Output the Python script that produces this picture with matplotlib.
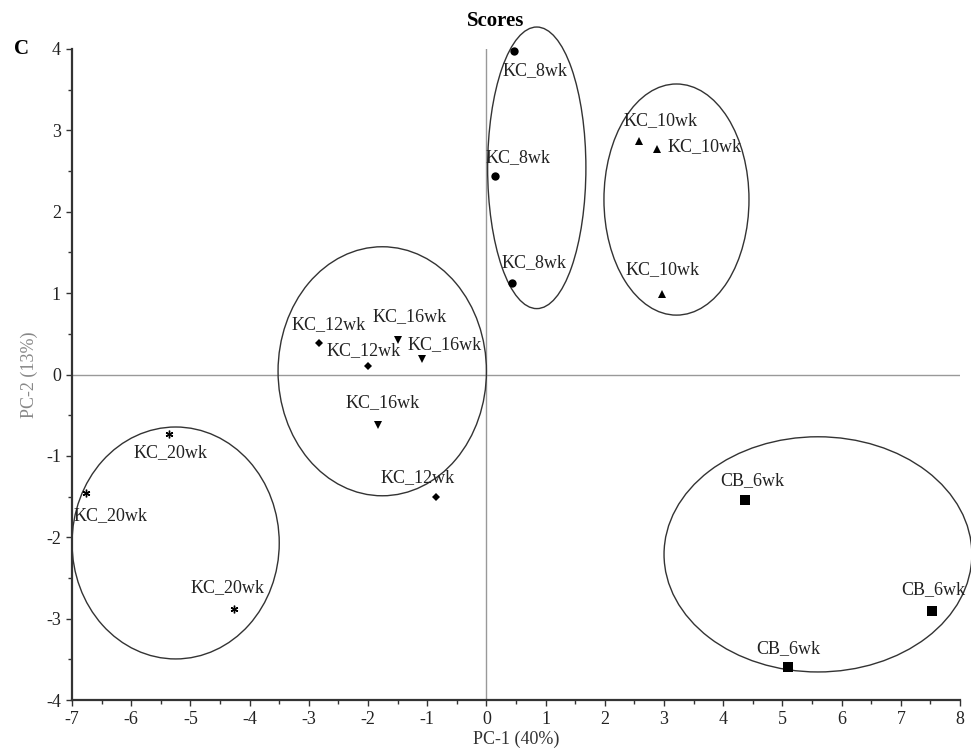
import matplotlib.pyplot as plt
import numpy as np
from matplotlib.patches import Ellipse
from matplotlib.ticker import MultipleLocator

plt.rcParams['font.family'] = ['Liberation Serif', 'DejaVu Serif']
plt.rcParams['axes.unicode_minus'] = False

# Score data (PC-1, PC-2)
groups = ['KC_8wk', 'KC_10wk', 'KC_12wk', 'KC_16wk', 'KC_20wk', 'CB_6wk']
pc1 = {
    'KC_8wk': [0.47, 0.14, 0.44],
    'KC_10wk': [2.57, 2.88, 2.96],
    'KC_12wk': [-2.82, -2.00, -0.86],
    'KC_16wk': [-1.49, -1.09, -1.83],
    'KC_20wk': [-5.37, -6.76, -4.26],
    'CB_6wk': [4.37, 7.53, 5.09],
}
pc2 = {
    'KC_8wk': [3.97, 2.44, 1.12],
    'KC_10wk': [2.87, 2.77, 0.99],
    'KC_12wk': [0.39, 0.11, -1.50],
    'KC_16wk': [0.43, 0.19, -0.62],
    'KC_20wk': [-0.73, -1.45, -2.88],
    'CB_6wk': [-1.54, -2.91, -3.59],
}

# group ellipses: centre x, centre y, width, height
ell_cx = [0.85, 3.21, -1.76, -5.25, 5.60]
ell_cy = [2.54, 2.15, 0.04, -2.07, -2.21]
ell_w = [1.66, 2.45, 3.52, 3.50, 5.20]
ell_h = [3.46, 2.84, 3.06, 2.85, 2.89]

markers = {'KC_8wk': 'o', 'KC_10wk': '^', 'KC_12wk': 'D', 'KC_16wk': 'v',
           'KC_20wk': (6, 2, 0), 'CB_6wk': 's'}
msize = {'KC_8wk': 6, 'KC_10wk': 5.5, 'KC_12wk': 4, 'KC_16wk': 5.5,
         'KC_20wk': 5.5, 'CB_6wk': 6.5}
# label offsets in pixels relative to each point
offs = {
    'KC_8wk': [(21, -19), (23, 18), (22, 21)],
    'KC_10wk': [(22, 20), (48, 2), (1, 24)],
    'KC_12wk': [(9, 18), (-4, 15), (-18, 19)],
    'KC_16wk': [(11, 23), (23, 14), (5, 22)],
    'KC_20wk': [(2, -19), (24, -23), (-7, 21)],
    'CB_6wk': [(7, 19), (1, 22), (1, 18)],
}

fig = plt.figure(figsize=(9.71, 7.55), dpi=100)
ax = fig.add_axes([0.0742, 0.0728, 0.9145, 0.8623])
ax.set_xlim(-7, 8)
ax.set_ylim(-4, 4)

ax.axhline(0, color='#999999', lw=1, zorder=1)
ax.axvline(0, color='#999999', lw=1, zorder=1)

for cx, cy, w, h in zip(ell_cx, ell_cy, ell_w, ell_h):
    ax.add_patch(Ellipse((cx, cy), w, h, fill=False, ec='#333333', lw=1, clip_on=False))

for g in groups:
    lw = 1.0 if g == 'KC_20wk' else 0
    ax.plot(pc1[g], pc2[g], ls='none', marker=markers[g], ms=msize[g],
            color='black', mew=lw, clip_on=False, zorder=3)
    for x, y, (dx, dy) in zip(pc1[g], pc2[g], offs[g]):
        ax.annotate(g, (x, y), xytext=(dx, dy), textcoords='offset pixels',
                    ha='center', va='center', fontsize=13, color='#222222')

for s in ['top', 'right']:
    ax.spines[s].set_visible(False)
for s in ['left', 'bottom']:
    ax.spines[s].set_linewidth(1.6)
    ax.spines[s].set_color('#333333')

ax.xaxis.set_major_locator(MultipleLocator(1))
ax.xaxis.set_minor_locator(MultipleLocator(0.5))
ax.yaxis.set_major_locator(MultipleLocator(1))
ax.yaxis.set_minor_locator(MultipleLocator(0.5))
ax.tick_params(which='major', direction='out', length=4, width=1, color='#333333',
               labelsize=13, labelcolor='#222222', pad=4)
ax.tick_params(which='minor', direction='out', length=3, width=1, color='#333333')

ax.set_xlabel('PC-1 (40%)', fontsize=13, color='#333333', labelpad=2)
ax.set_ylabel('PC-2 (13%)', fontsize=13, color='#888888', labelpad=6)

fig.text(0.51, 0.972, 'Scores', fontsize=15, fontweight='bold', ha='center', va='center')
fig.text(0.022, 0.935, 'C', fontsize=15, fontweight='bold', ha='center', va='center')

fig.savefig('out.png', dpi=100)
